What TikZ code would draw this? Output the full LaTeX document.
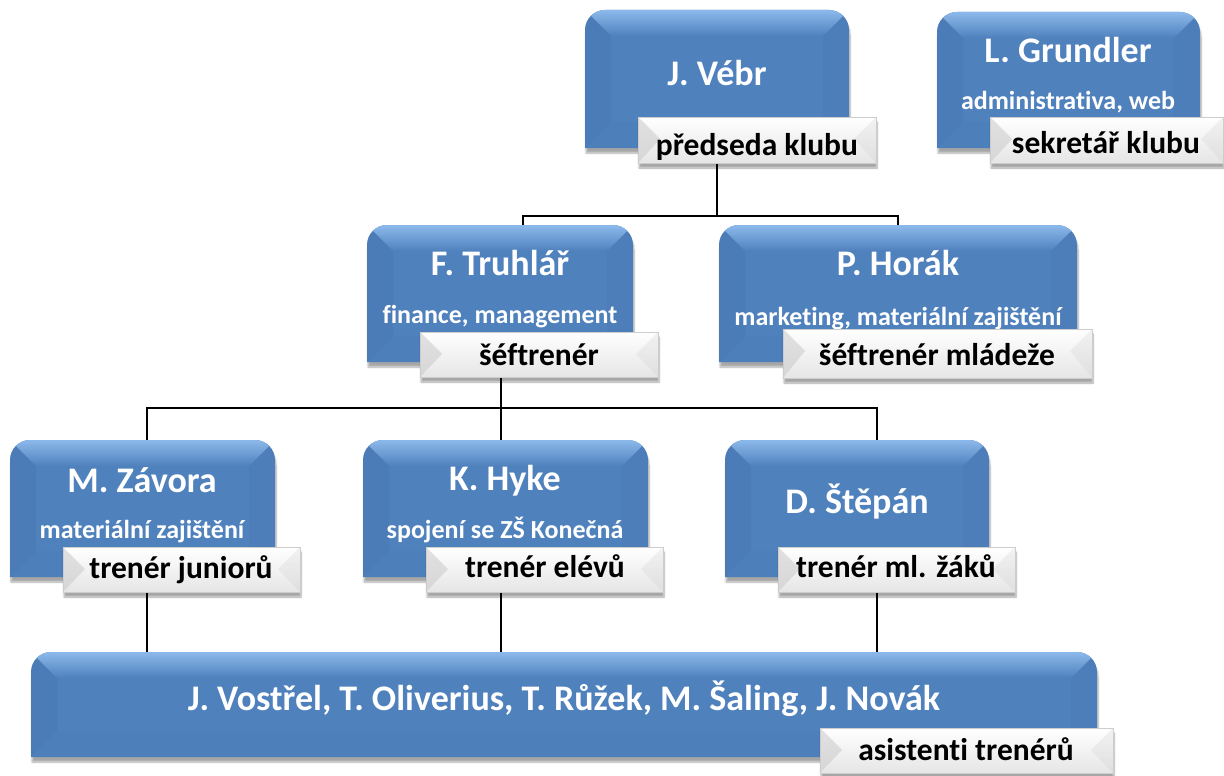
\documentclass[tikz,border=0pt]{standalone}
\usepackage{fontspec}
\setmainfont[Ligatures=NoCommon]{Carlito}
\usetikzlibrary{fit,shadows.blur}
\pgfdeclarelayer{background}
\pgfsetlayers{background,main}
\definecolor{bbase}{RGB}{79,129,189}
\definecolor{blight}{RGB}{140,185,235}
\definecolor{bdark}{RGB}{50,90,140}
\definecolor{lgray}{RGB}{205,205,205}
\definecolor{lbord}{RGB}{205,205,205}
\tikzset{
  ttl/.style={font=\bfseries\fontsize{36}{36}\selectfont, text=white, anchor=base, inner sep=0},
  sub/.style={font=\bfseries\fontsize{26}{26}\selectfont, text=white, anchor=base, inner sep=0},
  lbl/.style={font=\bfseries\fontsize{31.5}{31.5}\selectfont, text=black, anchor=base, inner sep=0},
  conn/.style={draw=black, line width=1.6pt},
  bshadow/.style={blur shadow={shadow xshift=1pt, shadow yshift=-5pt, shadow blur steps=6, shadow opacity=35}},
}
% blue box: name, x1, y1, x2, y2 (pixel coords, y down)
\newcommand{\bluebox}[5]{%
  \fill[bbase, bshadow] (#2,#5) -- (#2,#3+20) arc[start angle=180, end angle=270, radius=20] -- (#4-20,#3) arc[start angle=270, end angle=360, radius=20] -- (#4,#5) -- cycle;
  \begin{scope}
    \clip (#2,#5) -- (#2,#3+20) arc[start angle=180, end angle=270, radius=20] -- (#4-20,#3) arc[start angle=270, end angle=360, radius=20] -- (#4,#5) -- cycle;
    \shade[top color=blight, bottom color=bbase] (#2,#3) -- (#4,#3) -- (#4-26,#3+26) -- (#2+26,#3+26) -- cycle;
    \fill[bdark, opacity=.12] (#2,#3) -- (#2+26,#3+26) -- (#2+26,#5-26) -- (#2,#5) -- cycle;
    \fill[bdark, opacity=.06] (#4,#3) -- (#4-26,#3+26) -- (#4-26,#5-26) -- (#4,#5) -- cycle;
    \fill[bdark, opacity=.05] (#2,#5) -- (#2+26,#5-26) -- (#4-26,#5-26) -- (#4,#5) -- cycle;
  \end{scope}
  \node[fit={(#2,#3)(#4,#5)}, inner sep=0pt, draw=none] (#1) {};
}
% label box: name, x1, y1, x2, y2
\newcommand{\labelbox}[5]{%
  \shade[top color=white, bottom color=white!90!black, bshadow] (#2,#3) rectangle (#4,#5);
  \fill[lgray, opacity=.6] (#2,#3) -- (#2+22,#3+22) -- (#2,#5) -- cycle;
  \fill[lgray, opacity=.25] (#4,#3) -- (#4-22,#3+22) -- (#4,#5) -- cycle;
  \draw[lbord, line width=.6pt] (#2,#3) rectangle (#4,#5);
  \node[fit={(#2,#3)(#4,#5)}, inner sep=0pt, draw=none] (#1) {};
}
\begin{document}
\begin{tikzpicture}[x=1pt, y=-1pt]
\useasboundingbox (0,0) rectangle (1224,776);
% column x positions for connectors
\coordinate (cA) at (147,0);
\coordinate (cB) at (501,0);
\coordinate (cC) at (877,0);
\coordinate (cT) at (523,0);
\coordinate (bus1) at (0,216);
\coordinate (bus2) at (0,408);

% level 1
\bluebox{vebr}{585}{10}{849}{148}
\node[ttl] (vebrT) at (717,85) {J. Vébr};
\labelbox{vebrL}{638}{117}{876}{163}
\node[lbl] (vebrLt) at (757,155) {předseda klubu};

\bluebox{grundler}{937}{12}{1200}{148}
\node[ttl] (grundlerT) at (1068,63) {L. Grundler};
\node[sub] (grundlerS) at (1068,110) {administrativa, web};
\labelbox{grundlerL}{990}{117}{1223}{163}
\node[lbl] (grundlerLt) at (1106,153) {sekretář klubu};

% level 2
\bluebox{truhlar}{367}{225}{633}{362}
\node[ttl] (truhlarT) at (500,275) {F. Truhlář};
\node[sub] (truhlarS) at (500,323) {finance, management};
\labelbox{truhlarL}{420}{332}{658}{377}
\node[lbl] (truhlarLt) at (539,365) {šéftrenér};

\bluebox{horak}{719}{225}{1077}{362}
\node[ttl] (horakT) at (898,275) {P. Horák};
\node[sub] (horakS) at (898,325) {marketing, materiální zajištění};
\labelbox{horakL}{783}{329}{1092}{378}
\node[lbl] (horakLt) at (937,365) {šéftrenér mládeže};

% level 3
\bluebox{zavora}{10}{440}{275}{577}
\node[ttl] (zavoraT) at (142,492) {M. Závora};
\node[sub] (zavoraS) at (142,538) {materiální zajištění};
\labelbox{zavoraL}{63}{547}{300}{592}
\node[lbl] (zavoraLt) at (181,578) {trenér juniorů};

\bluebox{hyke}{363}{440}{648}{577}
\node[ttl] (hykeT) at (505,490) {K. Hyke};
\node[sub] (hykeS) at (505,538) {spojení se ZŠ Konečná};
\labelbox{hykeL}{426}{547}{663}{592}
\node[lbl] (hykeLt) at (545,577) {trenér elévů};

\bluebox{stepan}{725}{440}{989}{577}
\node[ttl] (stepanT) at (857,513) {D. Štěpán};
\labelbox{stepanL}{778}{547}{1015}{592}
\node[lbl] (stepanLt) at (896,577) {trenér ml. žáků};

% level 4
\bluebox{asist}{31}{652}{1097}{757}
\node[ttl] (asistT) at (564,710) {J. Vostřel, T. Oliverius, T. Růžek, M. Šaling, J. Novák};
\labelbox{asistL}{820}{728}{1113}{773}
\node[lbl] (asistLt) at (966,760) {asistenti trenérů};

% connectors
\begin{pgfonlayer}{background}
\draw[conn] (vebr.south) -- (vebr.south |- bus1);
\draw[conn] (cT |- truhlar.north) -- (cT |- bus1) -- (horak.north |- bus1) -- (horak.north);
\draw[conn] (truhlar.south -| cB) -- (cB |- bus2);
\draw[conn] (cA |- zavora.north) -- (cA |- bus2) -- (cC |- bus2) -- (cC |- stepan.north);
\draw[conn] (cB |- bus2) -- (cB |- hyke.north);
\draw[conn] (cA |- zavora.south) -- (cA |- asist.north);
\draw[conn] (cB |- hyke.south) -- (cB |- asist.north);
\draw[conn] (cC |- stepan.south) -- (cC |- asist.north);
\end{pgfonlayer}
\end{tikzpicture}
\end{document}
